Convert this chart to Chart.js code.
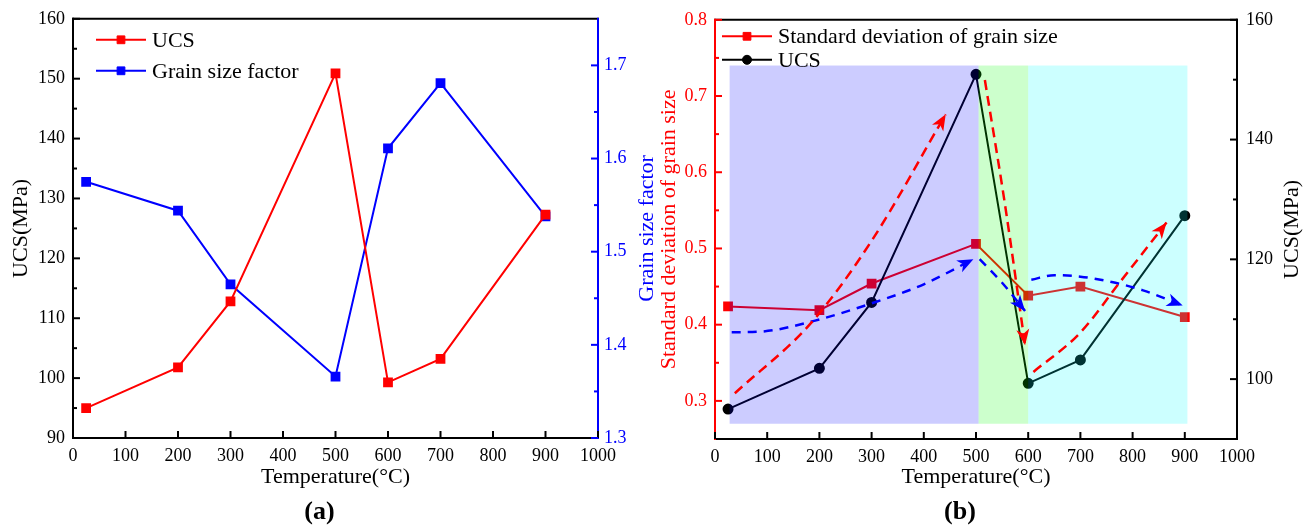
<!DOCTYPE html>
<html>
<head>
<meta charset="utf-8">
<title>UCS and grain size vs temperature</title>
<script src="https://cdn.jsdelivr.net/npm/chart.js@4.4.1/dist/chart.umd.min.js"></script>
<style>
  html, body { margin: 0; padding: 0; background: #ffffff; }
  #wrap { position: relative; width: 1310px; height: 530px; overflow: hidden; }
  canvas { position: absolute; top: 0; }
  #chartA { left: 0; }
  #chartB { left: 640px; }
</style>
</head>
<body>
<div id="wrap">
  <canvas id="chartA" width="660" height="530"></canvas>
  <canvas id="chartB" width="670" height="530"></canvas>
</div>
<script>
// ---- measured values ----
const temperature = [25, 200, 300, 500, 600, 700, 900];
const ucs = [95.0, 101.8, 112.8, 150.9, 99.3, 103.2, 127.3];
const grainSizeFactor = [1.575, 1.544, 1.465, 1.366, 1.611, 1.681, 1.538];
const grainSizeStd = [0.424, 0.419, 0.454, 0.506, 0.438, 0.450, 0.410];

// ---- axis ticks ----
const tempTicks = [0, 100, 200, 300, 400, 500, 600, 700, 800, 900, 1000];
const ucsTicksA = [90, 100, 110, 120, 130, 140, 150, 160];
const ucsMinorA = [95, 105, 115, 125, 135, 145, 155];
const gsfTicks = [1.3, 1.4, 1.5, 1.6, 1.7];
const gsfMinor = [1.35, 1.45, 1.55, 1.65];
const sdTicks = [0.3, 0.4, 0.5, 0.6, 0.7, 0.8];
const sdMinor = [0.35, 0.45, 0.55, 0.65, 0.75];
const ucsTicksB = [100, 120, 140, 160];
const ucsMinorB = [110, 130, 150];

// ---- trend arrows in panel (b): [temperature, std. deviation] ----
const redTrendHeating = [[38, 0.31], [185, 0.403], [300, 0.51], [442, 0.676]];
const redTrendDrop = [[517, 0.721], [555, 0.56], [594, 0.373]];
const redTrendRecover = [[610, 0.338], [699, 0.389], [776, 0.456], [865, 0.534]];
const blueTrendHeating = [[32, 0.39], [90, 0.391], [190, 0.405], [300, 0.428], [400, 0.453], [495, 0.486]];
const blueTrendDrop = [[507, 0.486], [550, 0.455], [594, 0.418]];
const blueTrendLate = [[606, 0.459], [650, 0.465], [700, 0.463], [760, 0.456], [820, 0.445], [896, 0.425]];

// ---- temperature stages shaded in panel (b) ----
const stageRanges = [[28, 505], [505, 600], [600, 905]];
const stageSpan = [0.27, 0.74];

// ---- styling ----
const SERIF = "'Liberation Serif', 'Times New Roman', serif";
const RED = '#ff0000';
const BLUE = '#0000ff';
const BLACK = '#000000';
const stageColors = ['rgba(0,0,255,0.2)', 'rgba(0,255,0,0.2)', 'rgba(0,255,255,0.2)'];
const tickFont = { family: SERIF, size: 18 };

const toPoints = (xs, ys) => xs.map((x, i) => ({ x: x, y: ys[i] }));
const pairsToPoints = pairs => pairs.map(p => ({ x: p[0], y: p[1] }));

function axis(position, min, max, values, color, padding, size) {
  return {
    type: 'linear',
    position: position,
    min: min,
    max: max,
    grid: { display: false, drawTicks: false },
    border: { display: false },
    ticks: { color: color, font: tickFont, padding: padding, callback: v => String(v) },
    afterBuildTicks: s => { s.ticks = values.map(v => ({ value: v })); },
    afterFit: s => {
      if (position === 'bottom') { s.height = size; } else { s.width = size; }
    }
  };
}

// frame lines plus inward tick marks
function framePlugin(sideColors, tickSets) {
  return {
    id: 'frame',
    afterDraw(chart) {
      const { ctx, chartArea: a } = chart;
      ctx.save();
      ctx.lineWidth = 2;
      ctx.lineCap = 'square';
      const edges = {
        top: [a.left, a.top, a.right, a.top],
        bottom: [a.left, a.bottom, a.right, a.bottom],
        left: [a.left, a.top, a.left, a.bottom],
        right: [a.right, a.top, a.right, a.bottom]
      };
      ['top', 'bottom', 'left', 'right'].forEach(side => {
        const e = edges[side];
        ctx.strokeStyle = sideColors[side];
        ctx.beginPath();
        ctx.moveTo(e[0], e[1]);
        ctx.lineTo(e[2], e[3]);
        ctx.stroke();
      });
      ctx.lineCap = 'butt';
      tickSets.forEach(t => {
        const scale = chart.scales[t.scale];
        ctx.strokeStyle = t.color;
        const mark = (v, len) => {
          const p = scale.getPixelForValue(v);
          ctx.beginPath();
          if (t.side === 'bottom') { ctx.moveTo(p, a.bottom); ctx.lineTo(p, a.bottom - len); }
          else if (t.side === 'left') { ctx.moveTo(a.left, p); ctx.lineTo(a.left + len, p); }
          else { ctx.moveTo(a.right, p); ctx.lineTo(a.right - len, p); }
          ctx.stroke();
        };
        t.major.forEach(v => mark(v, 7));
        (t.minor || []).forEach(v => mark(v, 4));
      });
      ctx.restore();
    }
  };
}

// legend with a line sample and marker, drawn inside the plot area
function lineLegendPlugin(offsetX, offsetY, rowGap) {
  return {
    id: 'lineLegend',
    afterDraw(chart) {
      const { ctx, chartArea: a } = chart;
      const items = chart.data.datasets.filter(d => d.inLegend);
      ctx.save();
      items.forEach((d, i) => {
        const x0 = a.left + offsetX;
        const y = a.top + offsetY + i * rowGap;
        const len = 50;
        ctx.strokeStyle = d.borderColor;
        ctx.lineWidth = d.borderWidth;
        ctx.beginPath();
        ctx.moveTo(x0, y);
        ctx.lineTo(x0 + len, y);
        ctx.stroke();
        ctx.fillStyle = d.borderColor;
        ctx.lineWidth = 1;
        Chart.helpers.drawPoint(ctx, { pointStyle: d.pointStyle, radius: d.pointRadius, borderWidth: 1, rotation: 0 }, x0 + len / 2, y);
        ctx.fillStyle = BLACK;
        ctx.font = '22px ' + SERIF;
        ctx.textAlign = 'left';
        ctx.textBaseline = 'middle';
        ctx.fillText(d.label, x0 + len + 6, y + 1);
      });
      ctx.restore();
    }
  };
}

// axis titles and panel tag
function textPlugin(items) {
  return {
    id: 'axisText',
    afterDraw(chart) {
      const { ctx, chartArea: a } = chart;
      ctx.save();
      items.forEach(it => {
        const pos = it.at(a);
        ctx.save();
        ctx.translate(pos[0], pos[1]);
        if (it.rotate) { ctx.rotate(-Math.PI / 2); }
        ctx.fillStyle = it.color;
        ctx.font = it.font;
        ctx.textAlign = 'center';
        ctx.textBaseline = 'middle';
        ctx.fillText(it.text, 0, 0);
        ctx.restore();
      });
      ctx.restore();
    }
  };
}

const titleFont = '22px ' + SERIF;
const tagFont = 'bold 26px ' + SERIF;

// ---------------- panel (a) ----------------
new Chart(document.getElementById('chartA'), {
  type: 'line',
  data: {
    datasets: [
      {
        label: 'UCS', data: toPoints(temperature, ucs), yAxisID: 'y',
        borderColor: RED, backgroundColor: RED, borderWidth: 2,
        pointStyle: 'rect', pointRadius: 5.5, inLegend: true
      },
      {
        label: 'Grain size factor', data: toPoints(temperature, grainSizeFactor), yAxisID: 'yR',
        borderColor: BLUE, backgroundColor: BLUE, borderWidth: 2,
        pointStyle: 'rect', pointRadius: 5.5, inLegend: true
      }
    ]
  },
  options: {
    responsive: false,
    animation: false,
    devicePixelRatio: 1,
    layout: { padding: { top: 16, left: 0, right: 0, bottom: 0 } },
    scales: {
      x: axis('bottom', 0, 1000, tempTicks, BLACK, 7, 92),
      y: axis('left', 90, 160, ucsTicksA, BLACK, 8, 73),
      yR: axis('right', 1.3, 1.75, gsfTicks, BLUE, 6, 62)
    },
    plugins: { legend: { display: false }, tooltip: { enabled: false } }
  },
  plugins: [
    framePlugin({ top: BLACK, bottom: BLACK, left: BLACK, right: BLUE }, [
      { scale: 'x', side: 'bottom', color: BLACK, major: tempTicks },
      { scale: 'y', side: 'left', color: BLACK, major: ucsTicksA, minor: ucsMinorA },
      { scale: 'yR', side: 'right', color: BLUE, major: gsfTicks, minor: gsfMinor }
    ]),
    lineLegendPlugin(23, 21, 31),
    textPlugin([
      { text: 'UCS(MPa)', at: a => [21, (a.top + a.bottom) / 2], rotate: true, color: BLACK, font: titleFont },
      { text: 'Grain size factor', at: a => [a.right + 49, (a.top + a.bottom) / 2], rotate: true, color: BLUE, font: titleFont },
      { text: 'Temperature(\u00B0C)', at: a => [(a.left + a.right) / 2, a.bottom + 39], color: BLACK, font: titleFont },
      { text: '(a)', at: a => [(a.left + a.right) / 2 - 16, a.bottom + 74], color: BLACK, font: tagFont }
    ])
  ]
});

// ---------------- panel (b) ----------------
function trend(pairs, color, dash) {
  return {
    data: pairsToPoints(pairs), yAxisID: 'y', borderColor: color, borderWidth: 2.5,
    borderDash: dash, pointRadius: 0, cubicInterpolationMode: 'monotone',
    order: 0, arrowHead: true
  };
}

const stageShading = {
  id: 'stageShading',
  afterDatasetDraw(chart, args) {
    if (args.index !== 1) return;
    const { ctx } = chart;
    const xs = chart.scales.x, ys = chart.scales.y;
    const top = ys.getPixelForValue(stageSpan[1]);
    const bottom = ys.getPixelForValue(stageSpan[0]);
    ctx.save();
    stageRanges.forEach((r, k) => {
      const l = xs.getPixelForValue(r[0]);
      const rr = xs.getPixelForValue(r[1]);
      ctx.fillStyle = stageColors[k];
      ctx.fillRect(l, top, rr - l, bottom - top);
    });
    ctx.restore();
  }
};

const arrowHeads = {
  id: 'arrowHeads',
  afterDatasetsDraw(chart) {
    const ctx = chart.ctx;
    chart.data.datasets.forEach((ds, i) => {
      if (!ds.arrowHead) return;
      const pts = chart.getDatasetMeta(i).data;
      const tip = pts[pts.length - 1];
      let bx = tip.cp1x, by = tip.cp1y;
      if (bx === undefined || (Math.abs(bx - tip.x) < 0.5 && Math.abs(by - tip.y) < 0.5)) {
        bx = pts[pts.length - 2].x; by = pts[pts.length - 2].y;
      }
      const ang = Math.atan2(tip.y - by, tip.x - bx);
      const L = 16, W = 6.5;
      ctx.save();
      ctx.fillStyle = ds.borderColor;
      ctx.translate(tip.x, tip.y);
      ctx.rotate(ang);
      ctx.beginPath();
      ctx.moveTo(0, 0);
      ctx.lineTo(-L, -W);
      ctx.lineTo(-L * 0.72, 0);
      ctx.lineTo(-L, W);
      ctx.closePath();
      ctx.fill();
      ctx.restore();
    });
  }
};

const redDash = [10, 6];
const blueDash = [9, 7];

new Chart(document.getElementById('chartB'), {
  type: 'line',
  data: {
    datasets: [
      {
        label: 'Standard deviation of grain size', data: toPoints(temperature, grainSizeStd), yAxisID: 'y',
        borderColor: RED, backgroundColor: RED, borderWidth: 2,
        pointStyle: 'rect', pointRadius: 5.5, order: 11, inLegend: true
      },
      {
        label: 'UCS', data: toPoints(temperature, ucs), yAxisID: 'yR',
        borderColor: BLACK, backgroundColor: BLACK, borderWidth: 2,
        pointStyle: 'circle', pointRadius: 4.5, order: 10, inLegend: true
      },
      trend(redTrendHeating, RED, redDash),
      trend(redTrendDrop, RED, redDash),
      trend(redTrendRecover, RED, redDash),
      trend(blueTrendHeating, BLUE, blueDash),
      trend(blueTrendDrop, BLUE, blueDash),
      trend(blueTrendLate, BLUE, blueDash)
    ]
  },
  options: {
    responsive: false,
    animation: false,
    devicePixelRatio: 1,
    layout: { padding: { top: 18, left: 0, right: 0, bottom: 0 } },
    scales: {
      x: axis('bottom', 0, 1000, tempTicks, BLACK, 7, 91),
      y: axis('left', 0.25, 0.8, sdTicks, RED, 8, 75),
      yR: axis('right', 90, 160, ucsTicksB, BLACK, 9, 73)
    },
    plugins: { legend: { display: false }, tooltip: { enabled: false } }
  },
  plugins: [
    stageShading,
    arrowHeads,
    framePlugin({ top: BLACK, bottom: BLACK, left: RED, right: BLACK }, [
      { scale: 'x', side: 'bottom', color: BLACK, major: tempTicks },
      { scale: 'y', side: 'left', color: RED, major: sdTicks, minor: sdMinor },
      { scale: 'yR', side: 'right', color: BLACK, major: ucsTicksB, minor: ucsMinorB }
    ]),
    lineLegendPlugin(7, 16.5, 23.5),
    textPlugin([
      { text: 'Standard deviation of grain size', at: a => [29, (a.top + a.bottom) / 2], rotate: true, color: RED, font: titleFont },
      { text: 'UCS(MPa)', at: a => [a.right + 55, (a.top + a.bottom) / 2], rotate: true, color: BLACK, font: titleFont },
      { text: 'Temperature(\u00B0C)', at: a => [(a.left + a.right) / 2, a.bottom + 38], color: BLACK, font: titleFont },
      { text: '(b)', at: a => [(a.left + a.right) / 2 - 16, a.bottom + 73], color: BLACK, font: tagFont }
    ])
  ]
});
</script>
</body>
</html>
